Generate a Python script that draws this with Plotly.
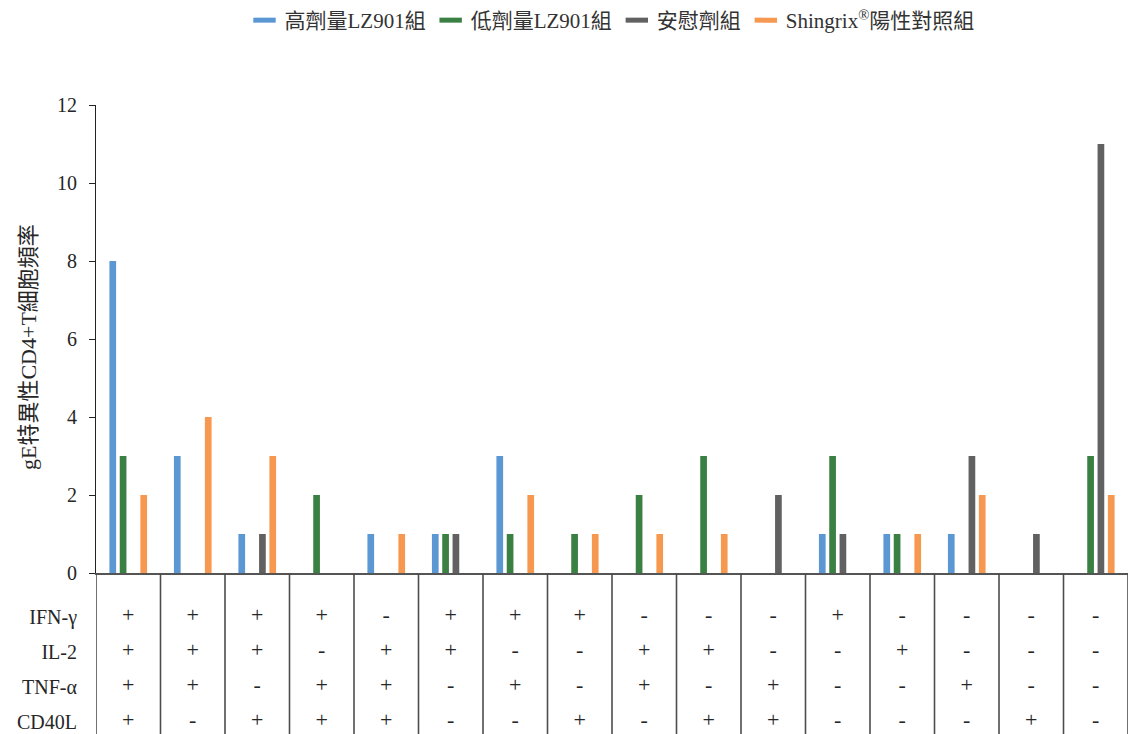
import plotly.graph_objects as go

# Marker combinations (16 subsets) and frequencies per study arm
categories = list(range(16))
high_dose = [8, 3, 1, 0, 1, 1, 3, 0, 0, 0, 0, 1, 1, 1, 0, 0]
low_dose = [3, 0, 0, 2, 0, 1, 1, 1, 2, 3, 0, 3, 1, 0, 0, 3]
placebo = [0, 0, 1, 0, 0, 1, 0, 0, 0, 0, 2, 1, 0, 3, 1, 11]
shingrix = [2, 4, 3, 0, 1, 0, 2, 1, 1, 1, 0, 0, 1, 2, 0, 2]

series_names = ["高劑量LZ901組", "低劑量LZ901組", "安慰劑組", "Shingrix<sup>®</sup>陽性對照組"]
series_colors = ["#5B97D2", "#3A8043", "#616161", "#F79850"]

# Cytokine expression pattern of each subset
row_labels = ["IFN-γ", "IL-2", "TNF-α", "CD40L"]
ifn_g = list("++++-+++---+----")
il_2 = list("+++-++--++--+---")
tnf_a = list("++-++-+-+-+--+--")
cd40l = list("+-+++--+-++---+-")
rows = [ifn_g, il_2, tnf_a, cd40l]

FONT = "Liberation Serif, Times New Roman, Noto Sans CJK TC, serif"
TEXT = "#262626"

fig = go.Figure()
for name, vals, col in zip(series_names, [high_dose, low_dose, placebo, shingrix], series_colors):
    fig.add_trace(go.Bar(
        x=categories, y=vals, name=name, legendgroup=name, showlegend=False,
        marker=dict(color=col, line=dict(width=0)),
        xaxis="x", yaxis="y", hoverinfo="skip",
    ))

# Legend keys drawn as short flat bars
for name, col in zip(series_names, series_colors):
    fig.add_trace(go.Scatter(
        x=[None], y=[None], name=name, legendgroup=name, mode="markers",
        marker=dict(symbol="line-ew", size=20, color=col, line=dict(color=col, width=5)),
        xaxis="x", yaxis="y", hoverinfo="skip",
    ))

# Sign table beneath the bars
tx, ty, tt = [], [], []
for r, signs in enumerate(rows, start=1):
    for c, s in zip(categories, signs):
        tx.append(c)
        ty.append(r)
        tt.append(s)
fig.add_trace(go.Scatter(
    x=tx, y=ty, text=tt, mode="text",
    textfont=dict(family=FONT, size=22, color=TEXT),
    xaxis="x2", yaxis="y2", showlegend=False, hoverinfo="skip",
))

W, H = 1129, 734
top, left, right = 105, 96, 1
plot_h = H - top
table_frac = (H - 573) / plot_h

# Column dividers in the table
for i in range(len(categories) + 1):
    fig.add_shape(
        type="line", xref="x2", yref="y2 domain",
        x0=i - 0.5, x1=i - 0.5, y0=0, y1=1,
        line=dict(color="#4d4d4d", width=1.6),
    )

fig.add_annotation(
    text="gE特異性CD4+T細胞頻率", textangle=-90,
    xref="paper", yref="paper",
    x=(28 - left) / (W - left - right), y=(H - 347) / plot_h,
    xanchor="center", yanchor="middle", showarrow=False,
    font=dict(family=FONT, size=22, color=TEXT),
)

fig.update_layout(
    width=W, height=H,
    margin=dict(l=left, r=right, t=top, b=0, autoexpand=False),
    paper_bgcolor="white", plot_bgcolor="white",
    barmode="group", bargap=0.36, bargroupgap=0.35,
    font=dict(family=FONT, color=TEXT),
    showlegend=True,
    legend=dict(
        orientation="h", x=0.5, xanchor="center",
        yref="container", y=1.0, yanchor="top",
        font=dict(family=FONT, size=21, color="#333333"),
        bgcolor="rgba(0,0,0,0)",
    ),
    xaxis=dict(
        domain=[0, 1], anchor="y", range=[-0.5, 15.5], automargin=False,
        showticklabels=False, ticks="", showgrid=False, zeroline=False,
        showline=True, linecolor="#555555", linewidth=2,
    ),
    yaxis=dict(
        domain=[table_frac, 1], anchor="x", range=[0, 12], automargin=False,
        tickvals=[0, 2, 4, 6, 8, 10, 12],
        ticks="outside", ticklen=6, tickcolor="#222222", tickwidth=1,
        ticklabelstandoff=8,
        tickfont=dict(family=FONT, size=20, color=TEXT),
        showline=True, linecolor="#222222", linewidth=1,
        showgrid=False, zeroline=False,
    ),
    xaxis2=dict(
        domain=[0, 1], anchor="y2", range=[-0.5, 15.5], automargin=False,
        showticklabels=False, ticks="", showgrid=False, zeroline=False,
        showline=False,
    ),
    yaxis2=dict(
        domain=[0, table_frac], anchor="x2", range=[4.35, -0.25], automargin=False,
        tickvals=[1, 2, 3, 4], ticktext=row_labels,
        ticks="", ticklabelstandoff=18,
        tickfont=dict(family=FONT, size=20, color=TEXT),
        showline=False, showgrid=False, zeroline=False,
    ),
)

fig.write_html("out.html")
